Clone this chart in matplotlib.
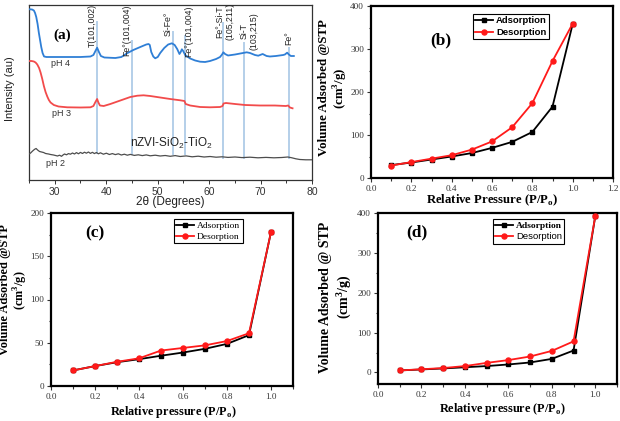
import matplotlib
matplotlib.use("Agg")
import matplotlib.pyplot as plt
from matplotlib.ticker import MultipleLocator

plt.rcParams['mathtext.fontset'] = 'custom'
plt.rcParams['mathtext.rm'] = 'Liberation Serif'
plt.rcParams['mathtext.bf'] = 'Liberation Serif:bold'
plt.rcParams['mathtext.sf'] = 'Liberation Sans'

SERIF = 'Liberation Serif'
SANS = 'Liberation Sans'

# ---------------- Panel (a): XRD ----------------
ph4_2theta = [25.17, 25.60, 25.95, 26.18, 26.41, 26.67, 26.92, 27.15, 27.38, 27.64, 27.93, 28.41, 31.12,
              35.00, 36.94, 37.52, 37.91, 38.24, 38.59, 38.97, 39.65, 41.78, 42.95, 44.05, 45.27, 46.63,
              47.79, 48.24, 48.47, 48.76, 49.15, 49.53, 50.02, 50.50, 51.28, 52.05, 52.77, 53.31, 53.80,
              54.24, 54.48, 54.71, 54.96, 55.35, 56.32, 57.29, 58.26, 59.22, 60.19, 61.36, 62.13, 62.52,
              62.77, 63.10, 63.68, 65.04, 67.31, 67.95, 68.91, 69.55, 70.41, 71.18, 71.82, 72.98, 74.40,
              74.73, 75.17, 75.50, 75.89, 76.47]
ph4_int = [170.7, 170.5, 169.5, 167, 163, 156, 147, 140, 133, 127, 123.5, 123, 123, 123, 123.5, 125,
           129, 132.3, 128, 124, 122.5, 122, 123, 126.7, 130, 133, 135.5, 136, 135, 128, 123.5, 121.7,
           123, 127, 132, 135.5, 136.7, 135, 131, 126, 128, 130.7, 129, 125, 121.5, 119.5, 118.3, 118,
           119, 121, 123, 125.5, 127.7, 126, 124.5, 125.5, 127.7, 127, 125, 124.3, 126, 124, 123.5, 124,
           125, 125.5, 127.3, 125.5, 124, 124]

ph3_2theta = [25.17, 25.50, 25.95, 26.28, 26.61, 26.96, 27.25, 27.58, 27.89, 28.22, 28.55, 28.86, 29.19,
              29.83, 30.74, 32.42, 35.00, 36.94, 37.52, 37.91, 38.24, 38.49, 38.78, 39.52, 40.81, 42.75,
              44.69, 46.05, 47.27, 48.57, 50.50, 52.44, 54.38, 55.21, 55.45, 56.32, 58.26, 60.19, 62.13,
              62.62, 62.81, 63.29, 65.04, 66.98, 69.88, 72.79, 74.92, 75.37, 75.70, 76.22]
ph3_int = [119, 119, 118.5, 117.5, 115.5, 112, 107.5, 101, 94, 88, 83.5, 80, 77.5, 75, 73.5, 72.7, 72.5,
           72.7, 74, 78, 81, 77.5, 74.5, 74, 76, 79.5, 83, 84.3, 84.7, 84, 82.5, 81, 79.7, 79, 76, 74.5,
           73, 72.7, 73, 74, 76.5, 77, 76, 75, 74.5, 74.5, 74, 74.5, 72.5, 71.7]

ph2_2theta = [25.02, 25.31, 25.70, 26.09, 26.38, 26.67, 27.05, 27.44, 27.83, 28.22, 28.80, 29.19, 29.77,
              30.16, 30.54, 30.93, 31.32, 31.61, 31.90, 32.29, 32.67, 33.06, 33.45, 33.84, 34.22, 34.61,
              35.00, 35.39, 35.78, 36.16, 36.55, 36.94, 37.33, 37.71, 38.10, 38.49, 38.88, 39.46, 40.04,
              40.62, 41.20, 41.78, 42.36, 42.95, 43.53, 44.11, 44.69, 45.47, 46.24, 47.02, 47.79, 48.57,
              49.53, 50.50, 51.47, 52.44, 53.41, 54.38, 55.54, 56.71, 57.87, 59.03, 60.19, 61.36, 62.52,
              63.68, 65.04, 66.40, 67.95, 69.50, 71.05, 72.60, 74.15, 75.31, 76.09, 76.86, 77.64, 78.80,
              79.96]
ph2_int = [26, 27, 29, 30.7, 31.5, 30, 28.5, 28, 27.5, 26.5, 26, 25.5, 25, 24.5, 24, 24.8, 23.7, 25, 26,
           25.2, 26.4, 25.8, 27, 26, 27.4, 26.2, 27.6, 26.5, 27.8, 26.8, 28, 26.6, 27.7, 26.4, 27.5, 26.2,
           27.2, 25.8, 26.8, 25.5, 26.4, 25.4, 26.2, 25, 25.8, 24.8, 25.6, 24.6, 25.2, 24.4, 25.1, 24.2,
           24.8, 24, 24.5, 23.7, 24.4, 23.5, 24.1, 23.2, 23.8, 23, 23.5, 22.8, 23.2, 22.6, 23, 22.4, 22.8,
           22.2, 22.6, 22.2, 22.5, 23, 22.2, 21.2, 20.5, 20.2, 20.2]

peak_pos = [38.2, 45.0, 53.0, 55.35, 62.8, 66.85, 75.55]
peak_labels = ['T(101,002)', 'Fe°(101,004)', 'Si-Fe°', 'Fe°(101,004)', 'Fe°-Si-T\n(105,211)',
               'Si-T\n(103,215)', 'Fe°']

# ---------------- BET panels ----------------
p_rel = [0.1, 0.2, 0.3, 0.4, 0.5, 0.6, 0.7, 0.8, 0.9, 1.0]
b_ads = [30, 36, 43, 50, 58, 70, 84, 107, 166, 358]
b_des = [29, 37, 45, 53, 66, 85, 118, 174, 272, 359]
c_ads = [18, 23, 27.5, 31, 35, 38.7, 43, 48.7, 58.8, 178]
c_des = [18, 23, 28, 32, 41, 44, 47, 52, 61, 178]
d_ads = [5, 7.5, 10, 13, 16, 20, 25, 34, 55, 392]
d_des = [5, 8, 11, 16, 24, 31, 40, 54, 78, 392]

W, H = 620, 421
fig = plt.figure(figsize=(W / 100, H / 100), dpi=100)


def add_ax(l, t, r, b):
    return fig.add_axes([l / W, 1 - b / H, (r - l) / W, (b - t) / H])


def ftext(x, y, s, **kw):
    fig.text(x / W, 1 - y / H, s, **kw)


# ---- (a)
axa = add_ax(29, 5, 312, 180)
axa.set_xlim(25, 80)
axa.set_ylim(0, 175)
tops = [158.3, 139.3, 148, 144, 157, 137.3, 132.3]
bots = [27.3, 26, 26, 26, 22.3, 22.3, 22.3]
for xp, t0, b0 in zip(peak_pos, tops, bots):
    axa.plot([xp, xp], [b0, t0], color='#b4cfe9', lw=1.4, zorder=1)
axa.plot(ph4_2theta, ph4_int, color='#2f7fd6', lw=1.3, zorder=3)
axa.plot(ph3_2theta, ph3_int, color='#f24b4b', lw=1.3, zorder=3)
axa.plot(ph2_2theta, ph2_int, color='#4d4d4d', lw=0.9, zorder=3)
lab_x = [37.33, 44.05, 52.05, 56.12, 63.1, 67.75, 75.5]
lab_y = [133.3, 124, 144, 123, 140, 130, 135]
for xl, yl, s in zip(lab_x, lab_y, peak_labels):
    axa.text(xl, yl, s, rotation=90, ha='center', va='bottom', fontsize=6.3, family=SANS,
             color='#222222', linespacing=1.1, multialignment='center')
axa.text(0.117, 0.829, '(a)', transform=axa.transAxes, ha='center', va='center',
         fontsize=11, fontweight='bold', family=SERIF)
axa.text(31.1, 116.5, 'pH 4', fontsize=6.5, family=SANS, ha='center', va='center', color='#333333')
axa.text(31.4, 66.5, 'pH 3', fontsize=6.5, family=SANS, ha='center', va='center', color='#333333')
axa.text(30.2, 16.5, 'pH 2', fontsize=6.5, family=SANS, ha='center', va='center', color='#333333')
axa.text(52.7, 37, r'nZVI-SiO$_\mathsf{2}$-TiO$_\mathsf{2}$', fontsize=8.5, family=SANS,
         ha='center', va='center', color='#222222')
axa.set_yticks([])
axa.xaxis.set_major_locator(MultipleLocator(10))
axa.xaxis.set_minor_locator(MultipleLocator(5))
axa.tick_params(axis='x', which='both', direction='out', labelsize=7.5, length=3, width=0.7,
                colors='#333333', pad=2)
axa.tick_params(axis='x', which='minor', length=2)
for lab in axa.get_xticklabels():
    lab.set_family(SANS)
for sp in axa.spines.values():
    sp.set_linewidth(0.9)
    sp.set_color('#333333')
ftext(170, 202, '2θ (Degrees)', ha='center', va='center', fontsize=8.5, family=SANS, color='#222222')
ftext(10, 89, 'Intensity (au)', ha='center', va='center', rotation=90, fontsize=8, family=SANS,
      color='#222222')


def bet_panel(box, xlim, ylim, ymaj, ymin, xmax_tick, ads, des, label, label_xy, leg_anchor,
              leg_fonts, ylabel, ylab_xy, ylab_size, xlabel, xlab_xy, xlab_size):
    ax = add_ax(*box)
    ax.plot(p_rel, ads, color='black', lw=1.3, marker='s', ms=3.2, zorder=3, label='Adsorption')
    ax.plot(p_rel, des, color='#ff1a1a', lw=1.3, marker='o', ms=3.6, zorder=4, label='Desorption')
    ax.set_xlim(*xlim)
    ax.set_ylim(*ylim)
    ax.set_xticks([i * 0.2 for i in range(int(round(xmax_tick / 0.2)) + 1)])
    ax.xaxis.set_minor_locator(MultipleLocator(0.1))
    ax.yaxis.set_major_locator(MultipleLocator(ymaj))
    ax.yaxis.set_minor_locator(MultipleLocator(ymin))
    ax.set_xticklabels(['%.1f' % v for v in ax.get_xticks()])
    ax.tick_params(which='both', direction='out', labelsize=6.6, width=0.8, length=3, pad=2,
                   colors='#333333')
    ax.tick_params(which='minor', length=1.8)
    for lab in ax.get_xticklabels() + ax.get_yticklabels():
        lab.set_family(SERIF)
    for sp in ax.spines.values():
        sp.set_linewidth(1.6)
        sp.set_color('black')
    ax.text(label_xy[0], label_xy[1], label, transform=ax.transAxes, ha='center', va='center',
            fontsize=12.5, fontweight='bold', family=SERIF)
    leg = ax.legend(loc='upper left', bbox_to_anchor=leg_anchor, frameon=True, fancybox=False,
                    edgecolor='black', framealpha=1, borderpad=0.25, handlelength=1.9,
                    handletextpad=0.3, labelspacing=0.25, borderaxespad=0, fontsize=6.8)
    leg.get_frame().set_linewidth(0.8)
    for txt, (fam, wt) in zip(leg.get_texts(), leg_fonts):
        txt.set_family(fam)
        txt.set_fontweight(wt)
    ftext(ylab_xy[0], ylab_xy[1], ylabel, rotation=90, ha='center', va='center',
          fontsize=ylab_size, fontweight='bold', family=SERIF, linespacing=1.1,
          multialignment='center')
    ftext(xlab_xy[0], xlab_xy[1], xlabel, ha='center', va='center', fontsize=xlab_size,
          fontweight='bold', family=SERIF)
    return ax


bet_panel((371, 6, 613, 178), (0, 1.2), (0, 400), 100, 50, 1.2, b_ads, b_des, '(b)',
          (0.289, 0.802), (0.421, 0.953), [(SANS, 'bold'), (SANS, 'bold')],
          'Volume Adsorbed @STP\n(cm$^\\mathbf{3}$/g)', (334, 88), 9.3,
          'Relative Pressure (P/P$_\\mathbf{o}$)', (492, 200), 9.2)

bet_panel((51, 213, 293, 386), (0, 1.1), (0, 200), 50, 25, 1.0, c_ads, c_des, '(c)',
          (0.182, 0.884), (0.508, 0.965), [(SERIF, 'normal'), (SERIF, 'normal')],
          'Volume Adsorbed @STP\n(cm$^\\mathbf{3}$/g)', (14.5, 290), 8.8,
          'Relative pressure (P/P$_\\mathbf{o}$)', (173, 412), 8.8)

bet_panel((378, 213, 617, 384), (0, 1.1), (-29, 400), 100, 50, 1.0, d_ads, d_des, '(d)',
          (0.163, 0.889), (0.481, 0.965), [(SERIF, 'bold'), (SANS, 'normal')],
          'Volume Adsorbed @ STP\n(cm$^\\mathbf{3}$/g)', (336, 297), 10.0,
          'Relative pressure (P/P$_\\mathbf{o}$)', (502, 409), 8.8)

fig.savefig('out.png', dpi=100)
